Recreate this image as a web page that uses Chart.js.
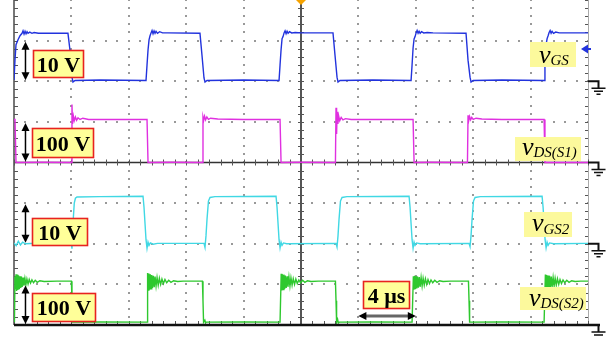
<!DOCTYPE html>
<html><head><meta charset="utf-8">
<script src="https://cdn.jsdelivr.net/npm/chart.js@4.4.1/dist/chart.umd.min.js"></script>
<style>html,body{margin:0;padding:0;background:#fff;}canvas{display:block;}</style>
</head><body>
<canvas id="c" width="611" height="337"></canvas>
<script>
// time axis: microseconds (10 divisions of 4 us); vertical: 8 divisions
const timeDivs = [0,4,8,12,16,20,24,28,32,36,40];
const channelNames = ["vGS","vDS(S1)","vGS2","vDS(S2)"];
const channelGroundDiv = [6,4,2,0];        // ground level of each channel (divisions)
const channelVoltsPerDiv = [10,100,10,100]; // 10 V, 100 V, 10 V, 100 V per division
const scaleLabels = ["10 V","100 V","10 V","100 V"];
const timeLabel = "4 µs";

// [time us, volts]
const vGS = [[0,0.3],[0.07,5.3],[0.14,9.0],[0.28,10.2],[0.42,11.2],[0.56,11.8],[0.63,12.4],[0.7,11.6],[0.77,12.3],[0.84,11.7],[0.91,12.2],[0.98,11.8],[1.1,12.1],[1.25,11.8],[1.4,12.0],[1.7,11.8],[3.76,11.8],[3.9,7.7],[4.04,1.0],[4.11,-0.2],[4.25,0.2],[6,0.3],[9.2,0.2],
[9.27,4],[9.34,7.7],[9.41,10.2],[9.48,11.2],[9.55,11.9],[9.62,12.5],[9.69,11.7],[9.76,12.4],[9.83,11.8],[9.9,12.3],[10.0,11.8],[10.15,12.2],[10.35,11.9],[10.7,11.9],[12.96,11.8],[13.1,6.4],[13.24,0.8],[13.31,-0.2],[13.45,0.2],[16,0.3],[18.47,0.2],
[18.54,4],[18.61,7.7],[18.68,10.5],[18.75,11.0],[18.82,11.9],[18.89,12.4],[18.96,11.7],[19.03,12.3],[19.1,11.8],[19.2,12.2],[19.35,11.9],[19.6,12.0],[20,11.9],[22.23,11.9],[22.37,6.4],[22.51,1],[22.58,-0.2],[22.72,0.2],[25,0.3],[27.67,0.2],
[27.74,4],[27.81,8.2],[27.88,10.4],[27.95,11.0],[28.02,11.9],[28.09,12.5],[28.16,11.8],[28.23,12.3],[28.3,11.8],[28.4,12.2],[28.55,11.9],[28.8,12.0],[29.2,11.9],[31.5,11.8],[31.64,5.2],[31.78,1],[31.85,-0.2],[32,0.2],[34,0.3],[36.94,0.2],
[37.0,4],[37.08,9.0],[37.15,10.5],[37.22,11.2],[37.29,12.0],[37.36,12.5],[37.43,11.8],[37.5,12.3],[37.6,11.8],[37.75,12.1],[38,11.9],[40,11.9]];

const vDS1 = [[0,106],[0.07,106],[0.14,0],[2,0.5],[4.0,0],[4.04,143],[4.08,95],[4.14,114],[4.2,103],[4.28,112],[4.36,104],[4.46,110],[4.6,106],[4.8,109],[5.2,106],[7,106],[9.27,106],[9.34,0],[11,0.5],
[13.13,0],[13.17,112],[13.22,104],[13.28,114],[13.35,105],[13.44,112],[13.55,106],[13.7,109],[14.2,107],[16,106],[18.54,106],[18.61,0],[20,0.5],
[22.4,0],[22.44,135],[22.48,70],[22.52,125],[22.57,95],[22.63,114],[22.7,103],[22.8,111],[22.92,105],[23.1,108],[23.5,106],[25,106],[27.81,106],[27.88,0],[29,0.5],
[31.6,0],[31.64,116],[31.69,103],[31.75,113],[31.82,105],[31.9,111],[32.0,106],[32.2,109],[32.6,107],[34,106],[36.94,106],[37.0,0],[40,0]];

const vGS2 = [[0,0.2],[0.15,-0.5],[0.3,0.6],[0.45,-0.3],[0.6,0.4],[0.8,0],[2,0.2],[4.0,0.1],[4.04,-1.2],[4.11,5],[4.2,10.0],[4.28,11.2],[4.39,11.5],[6,11.6],[8.99,11.7],[9.06,9],[9.13,5],[9.2,1],[9.27,-1.1],[9.34,0.4],[9.41,-0.4],[9.5,0.2],[9.7,-0.1],[10,0.1],
[13.24,0.1],[13.31,-0.9],[13.38,2],[13.45,6],[13.55,10.5],[13.66,11.4],[14,11.6],[18.26,11.7],[18.33,9],[18.4,5],[18.47,1],[18.54,-1.0],[18.61,0.4],[18.68,-0.4],[18.78,0.2],[19,0],
[22.44,0.1],[22.51,-0.8],[22.58,2],[22.65,6],[22.75,10.5],[22.86,11.4],[23.2,11.6],[27.53,11.7],[27.6,9],[27.67,5],[27.74,1],[27.81,-1.1],[27.88,0.4],[27.95,-0.4],[28.05,0.2],[28.3,0],
[31.71,0.1],[31.78,-0.7],[31.85,2],[31.92,6],[32.02,10.5],[32.13,11.4],[32.5,11.6],[36.8,11.7],[36.87,9],[36.94,5],[37.01,1],[37.08,-1.0],[37.15,0.4],[37.22,-0.4],[37.32,0.2],[37.6,0],[40,0.1]];

const vDS2 = [[0,40],[0.03,7],[0.07,120],[0.1,88],[0.14,125],[0.18,84],[0.22,124],[0.27,86],[0.32,122],[0.37,88],[0.42,120],[0.47,91],[0.52,119],[0.57,94],[0.63,117],[0.69,97],[0.76,115],[0.83,99],[0.9,113],[0.98,101],[1.06,112],[1.15,103],[1.25,111],[1.36,104],[1.48,110],[1.62,105],[1.8,109],[2.1,107],[3,108],[4.0,108],[4.04,60],[4.08,7],[6,7.5],[9.2,7],
[9.27,7],[9.31,128],[9.35,86],[9.4,127],[9.45,87],[9.5,125],[9.55,89],[9.6,123],[9.65,91],[9.71,121],[9.77,93],[9.83,119],[9.9,96],[9.97,117],[10.05,98],[10.13,115],[10.22,100],[10.31,113],[10.41,102],[10.52,112],[10.64,104],[10.78,110],[10.94,105],[11.12,109],[11.4,107],[11.8,108],[13.13,108],[13.17,60],[13.21,7],[13.3,12],[13.35,5],[13.4,7],[16,7.5],[18.54,7],
[18.58,7],[18.62,126],[18.66,85],[18.71,125],[18.76,87],[18.81,124],[18.86,89],[18.91,122],[18.97,91],[19.03,120],[19.09,94],[19.16,118],[19.23,96],[19.3,116],[19.38,98],[19.46,114],[19.55,100],[19.64,113],[19.74,102],[19.85,111],[19.97,104],[20.11,110],[20.27,105],[20.45,109],[20.7,107],[21.2,108],[22.4,108],[22.44,60],[22.48,7],[22.55,14],[22.6,5],[22.66,7],[25,7.5],[27.74,7],
[27.79,7],[27.83,120],[27.87,87],[27.92,121],[27.97,88],[28.02,120],[28.07,90],[28.12,119],[28.18,92],[28.24,118],[28.3,94],[28.37,117],[28.44,96],[28.51,115],[28.59,98],[28.67,114],[28.76,100],[28.85,112],[28.95,102],[29.06,111],[29.18,104],[29.32,110],[29.48,105],[29.66,109],[29.9,107],[30.4,108],[31.67,108],[31.71,60],[31.75,7],[34,7.5],[36.94,7],
[36.99,7],[37.03,124],[37.07,86],[37.12,123],[37.17,88],[37.22,122],[37.27,90],[37.32,121],[37.38,92],[37.44,119],[37.5,94],[37.57,117],[37.64,96],[37.71,115],[37.79,98],[37.87,114],[37.96,100],[38.05,112],[38.15,102],[38.26,111],[38.38,104],[38.52,110],[38.68,105],[38.86,109],[39.1,107],[39.5,108],[40,108]];

const traces = [vGS, vDS1, vGS2, vDS2];
const traceColors = ["#2233dd","#e030e0","#40d8e4","#2ec82e"];

function toDiv(series, ch){
  return series.map(p => ({x:p[0], y: channelGroundDiv[ch] + p[1]/channelVoltsPerDiv[ch]}));
}

const graticule = {
  id:'graticule',
  beforeDatasetsDraw(chart){
    const {ctx, chartArea:a, scales:{x,y}} = chart;
    ctx.save();
    ctx.fillStyle = '#999';
    // dotted major grid
    for (let j=1;j<8;j++){
      if (j===4) continue;
      const py = Math.round(y.getPixelForValue(j));
      for (let t=0;t<=40.001;t+=0.8){
        const px = Math.round(x.getPixelForValue(t));
        ctx.fillRect(px-1, py-1, 2, 2);
      }
    }
    for (let i=1;i<10;i++){
      if (i===5) continue;
      const px = Math.round(x.getPixelForValue(timeDivs[i]));
      for (let d=0; d<=8.001; d+=0.2){
        const py = Math.round(y.getPixelForValue(d));
        ctx.fillRect(px-1, py-1, 2, 2);
      }
    }
    // borders
    ctx.strokeStyle = '#777'; ctx.lineWidth = 2;
    ctx.beginPath(); ctx.moveTo(a.left, a.top); ctx.lineTo(a.left, a.bottom); ctx.stroke();
    ctx.strokeStyle = '#aaa'; ctx.lineWidth = 1;
    ctx.beginPath(); ctx.moveTo(a.right+0.5, a.top); ctx.lineTo(a.right+0.5, a.bottom); ctx.stroke();
    // center lines
    const cx = x.getPixelForValue(20), cy = y.getPixelForValue(4);
    ctx.strokeStyle = '#555'; ctx.lineWidth = 2;
    ctx.beginPath(); ctx.moveTo(cx, a.top); ctx.lineTo(cx, a.bottom); ctx.stroke();
    ctx.strokeStyle = '#333'; ctx.lineWidth = 1.5;
    ctx.beginPath(); ctx.moveTo(a.left, cy); ctx.lineTo(a.right, cy); ctx.stroke();
    // minor ticks
    ctx.lineWidth = 1; ctx.strokeStyle = '#555';
    ctx.beginPath();
    for (let d=0; d<=8.001; d+=0.2){
      const py = Math.round(y.getPixelForValue(d))+0.5;
      ctx.moveTo(cx-3, py); ctx.lineTo(cx+3, py);
      ctx.moveTo(a.left, py); ctx.lineTo(a.left+4, py);
      ctx.moveTo(a.right-3, py); ctx.lineTo(a.right, py);
    }
    for (let t=0;t<=40.001;t+=0.8){
      const px = Math.round(x.getPixelForValue(t))+0.5;
      ctx.moveTo(px, cy-3); ctx.lineTo(px, cy+3);
      ctx.moveTo(px, a.bottom-4); ctx.lineTo(px, a.bottom);
    }
    ctx.stroke();
    ctx.restore();
  },
  afterDatasetsDraw(chart){
    const {ctx, chartArea:a, scales:{x,y}} = chart;
    ctx.save();
    // bottom axis line
    ctx.strokeStyle = '#111'; ctx.lineWidth = 2.5;
    ctx.beginPath(); ctx.moveTo(a.left, a.bottom); ctx.lineTo(a.right+12, a.bottom); ctx.stroke();
    // ground symbols
    channelGroundDiv.forEach(g => {
      const py = y.getPixelForValue(g);
      const gx = 598.5;
      ctx.strokeStyle = '#111'; ctx.lineWidth = 2;
      ctx.beginPath(); ctx.moveTo(a.right, py); ctx.lineTo(gx, py); ctx.lineTo(gx, py+7); ctx.stroke();
      ctx.lineWidth = 1.5;
      ctx.beginPath();
      ctx.moveTo(gx-7, py+7); ctx.lineTo(gx+7, py+7);
      ctx.moveTo(gx-4.5, py+10); ctx.lineTo(gx+4.5, py+10);
      ctx.moveTo(gx-2, py+13); ctx.lineTo(gx+2, py+13);
      ctx.stroke();
    });
    // ch1 level marker
    ctx.fillStyle = '#2233dd';
    ctx.beginPath(); ctx.moveTo(581, 49); ctx.lineTo(588, 44.5); ctx.lineTo(588, 53.5); ctx.closePath(); ctx.fill();
    ctx.fillRect(588, 48, 3, 2);
    // trigger marker
    const tx = x.getPixelForValue(20);
    ctx.fillStyle = '#f5a200';
    ctx.beginPath(); ctx.moveTo(tx-5, 0); ctx.lineTo(tx+5, 0); ctx.lineTo(tx, 5); ctx.closePath(); ctx.fill();

    // double arrows
    function head(xx, yy, dx, dy){
      const L=8, W=4;
      const nx=-dy, ny=dx;
      ctx.beginPath();
      ctx.moveTo(xx, yy);
      ctx.lineTo(xx - dx*L + nx*W, yy - dy*L + ny*W);
      ctx.lineTo(xx - dx*L - nx*W, yy - dy*L - ny*W);
      ctx.closePath(); ctx.fill();
    }
    ctx.fillStyle = '#000'; ctx.strokeStyle = '#000';
    const ax = x.getPixelForValue(0.8);
    channelGroundDiv.forEach(g => {
      const y0 = y.getPixelForValue(g) - 1, y1 = y.getPixelForValue(g+1) + 1;
      ctx.lineWidth = 1.5;
      ctx.beginPath(); ctx.moveTo(ax, y1+4); ctx.lineTo(ax, y0-4); ctx.stroke();
      head(ax, y1, 0, -1); head(ax, y0, 0, 1);
    });
    // time arrow
    const tx0 = x.getPixelForValue(24), tx1 = x.getPixelForValue(28), ty = y.getPixelForValue(0.22);
    ctx.strokeStyle = '#666'; ctx.lineWidth = 3;
    ctx.beginPath(); ctx.moveTo(tx0+5, ty); ctx.lineTo(tx1-5, ty); ctx.stroke();
    ctx.fillStyle = '#000';
    head(tx0, ty, -1, 0); head(tx1, ty, 1, 0);

    // scale boxes
    function box(x0, y0, x1, y1, txt){
      ctx.fillStyle = '#ffff99';
      ctx.fillRect(x0, y0, x1-x0, y1-y0);
      ctx.strokeStyle = '#e8231f'; ctx.lineWidth = 1.6;
      ctx.strokeRect(x0, y0, x1-x0, y1-y0);
      ctx.fillStyle = '#000';
      ctx.font = 'bold 22px "Liberation Serif", "DejaVu Serif", serif';
      ctx.textAlign = 'center'; ctx.textBaseline = 'alphabetic';
      ctx.fillText(txt, (x0+x1)/2, y0 + (y1-y0)/2 + 7.5);
    }
    box(33.5, 50.5, 83.5, 77.5, scaleLabels[0]);
    box(32.5, 128.5, 93.5, 157.5, scaleLabels[1]);
    box(32.5, 218.5, 87.5, 245.5, scaleLabels[2]);
    box(32.5, 293.5, 95.5, 321.5, scaleLabels[3]);
    box(363.5, 281.5, 409.5, 308.5, timeLabel);

    // channel labels
    function label(x0, y0, x1, y1, vx, vb, sub, sb){
      ctx.fillStyle = '#fcf99c';
      ctx.fillRect(x0, y0, x1-x0, y1-y0);
      ctx.fillStyle = '#000'; ctx.textAlign = 'left'; ctx.textBaseline = 'alphabetic';
      ctx.font = 'italic 26px "Liberation Serif", "DejaVu Serif", serif';
      ctx.fillText('v', vx, vb);
      const w = ctx.measureText('v').width;
      ctx.font = 'italic 15px "Liberation Serif", "DejaVu Serif", serif';
      ctx.fillText(sub, vx + w, sb);
    }
    label(530, 42, 576, 67, 539, 63, channelNames[0].slice(1), 65);
    label(515, 137, 581, 161, 522, 155, channelNames[1].slice(1), 157);
    label(524, 212, 572, 237, 532, 231, channelNames[2].slice(1), 234);
    label(520, 287, 586, 310, 529, 306, channelNames[3].slice(1), 308);
    ctx.restore();
  }
};

new Chart(document.getElementById('c'), {
  type: 'scatter',
  data: {
    datasets: traces.map((s, ch) => ({
      label: channelNames[ch],
      data: toDiv(s, ch),
      showLine: true,
      borderColor: traceColors[ch],
      backgroundColor: traceColors[ch],
      borderWidth: 1.4,
      pointRadius: 0,
      tension: 0
    }))
  },
  options: {
    responsive: false,
    animation: false,
    devicePixelRatio: 1,
    layout: {padding: {left:14, right:23, top:0, bottom:12}},
    scales: {
      x: {type:'linear', min:0, max:40, display:false},
      y: {type:'linear', min:0, max:8, display:false}
    },
    plugins: {legend:{display:false}, tooltip:{enabled:false}}
  },
  plugins: [graticule]
});
</script>
</body></html>
